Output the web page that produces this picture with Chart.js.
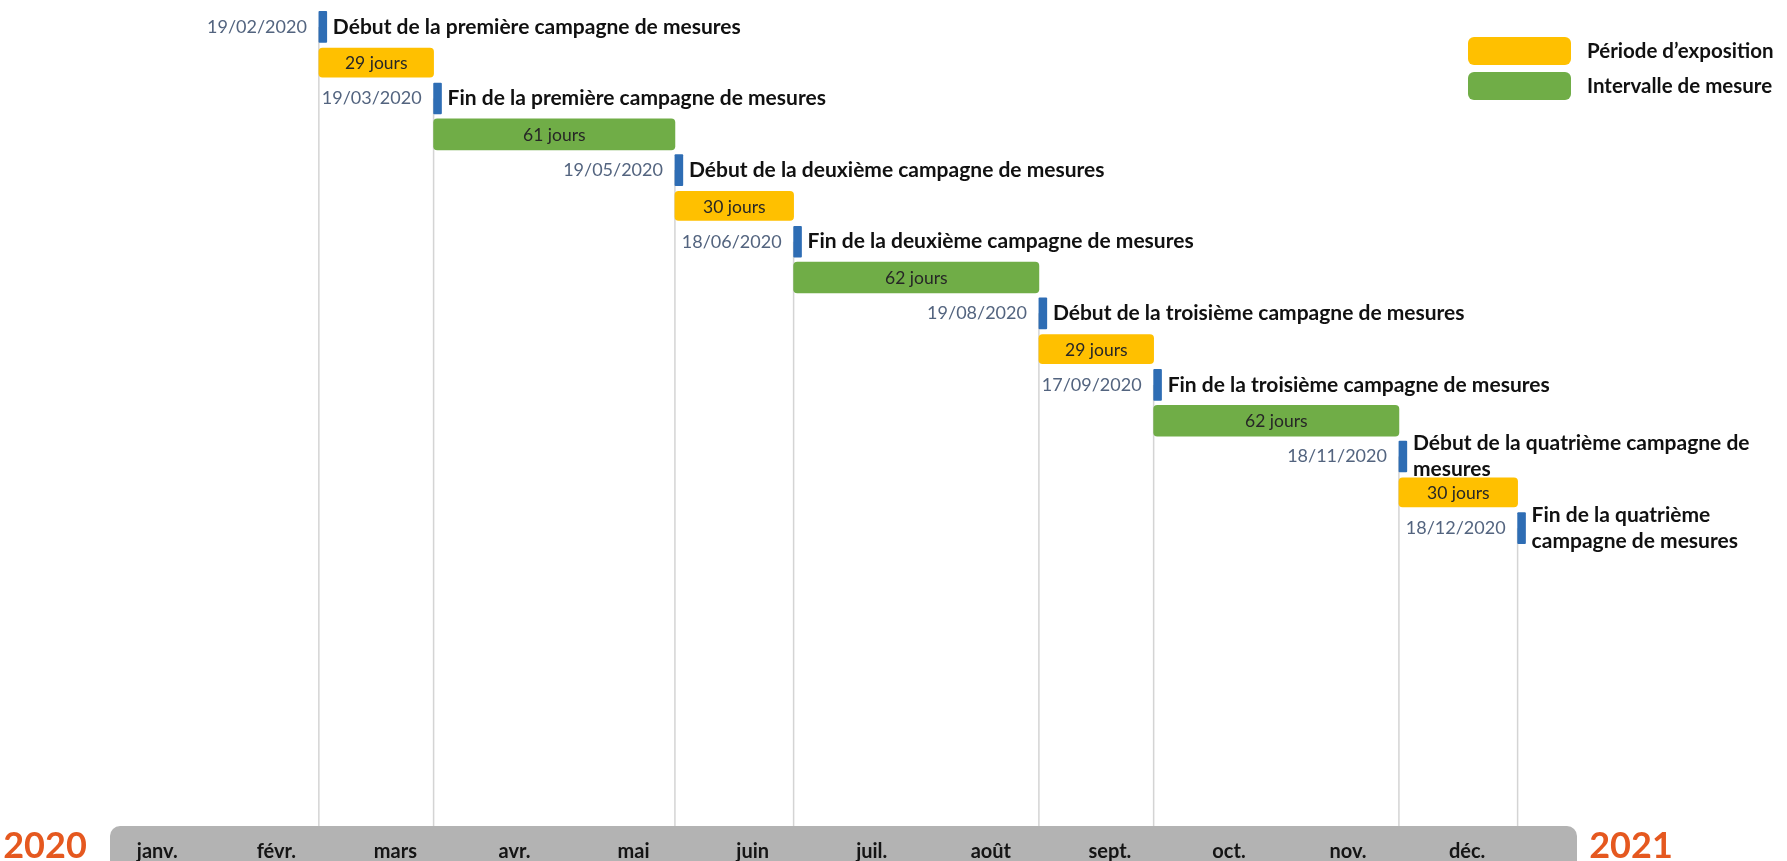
<!DOCTYPE html>
<html lang="fr">
<head>
<meta charset="utf-8">
<title>Campagnes de mesures 2020</title>
<script src="https://cdn.jsdelivr.net/npm/chart.js@4.4.1/dist/chart.umd.min.js"></script>
<style>
  html, body { margin: 0; padding: 0; background: #fff; }
</style>
</head>
<body>
<canvas id="timeline" width="1787" height="861"></canvas>
<script>
// jalons (jj/mm/aaaa) et leur ligne dans le planning
const milestoneDates = ['19/02/2020', '19/03/2020', '19/05/2020', '18/06/2020', '19/08/2020', '17/09/2020', '18/11/2020', '18/12/2020'];
const milestoneRows = [0, 2, 4, 6, 8, 10, 12, 14];
const milestoneLabels = [
  ['Début de la première campagne de mesures'],
  ['Fin de la première campagne de mesures'],
  ['Début de la deuxième campagne de mesures'],
  ['Fin de la deuxième campagne de mesures'],
  ['Début de la troisième campagne de mesures'],
  ['Fin de la troisième campagne de mesures'],
  ['Début de la quatrième campagne de', 'mesures'],
  ['Fin de la quatrième', 'campagne de mesures'],
];

// périodes d'exposition (jaune)
const exposureStart = ['19/02/2020', '19/05/2020', '19/08/2020', '18/11/2020'];
const exposureEnd = ['19/03/2020', '18/06/2020', '17/09/2020', '18/12/2020'];
const exposureRows = [1, 5, 9, 13];
const exposureDays = [29, 30, 29, 30];

// intervalles entre campagnes (vert)
const intervalStart = ['19/03/2020', '18/06/2020', '17/09/2020'];
const intervalEnd = ['19/05/2020', '19/08/2020', '18/11/2020'];
const intervalRows = [3, 7, 11];
const intervalDays = [61, 62, 62];

const monthLabels = ['janv.', 'févr.', 'mars', 'avr.', 'mai', 'juin', 'juil.', 'août', 'sept.', 'oct.', 'nov.', 'déc.'];
const yearLabels = ['2020', '2021'];

const FONT = 'Lato, "Open Sans", sans-serif';
const Y_MIN = -0.5;
const Y_MAX = 22.32;
const MARK_DAYS = 2; // largeur du repère bleu

function dayOfYear(s) {
  const [d, m, y] = s.split('/').map(Number);
  return (Date.UTC(y, m - 1, d) - Date.UTC(y, 0, 1)) / 86400000;
}

const exposureSet = {
  type: 'bar',
  label: 'Période d’exposition',
  indexAxis: 'y',
  xAxisID: 'x',
  yAxisID: 'y',
  data: exposureStart.map((s, i) => ({ x: [dayOfYear(s), dayOfYear(exposureEnd[i])], y: exposureRows[i] })),
  days: exposureDays,
  backgroundColor: '#FFC000',
  barThickness: 29,
  borderRadius: 4,
  borderSkipped: false,
  stack: 'g',
  order: 1,
};

const intervalSet = {
  type: 'bar',
  label: 'Intervalle de mesure',
  indexAxis: 'y',
  xAxisID: 'x',
  yAxisID: 'y',
  data: intervalStart.map((s, i) => ({ x: [dayOfYear(s), dayOfYear(intervalEnd[i])], y: intervalRows[i] })),
  days: intervalDays,
  backgroundColor: '#70AD47',
  barThickness: 31,
  borderRadius: 4,
  borderSkipped: false,
  stack: 'g',
  order: 1,
};

const markerSet = {
  type: 'bar',
  label: 'Jalons',
  indexAxis: 'y',
  xAxisID: 'x',
  yAxisID: 'y',
  data: milestoneDates.map((s, i) => ({ x: [dayOfYear(s), dayOfYear(s) + MARK_DAYS], y: milestoneRows[i] })),
  backgroundColor: '#2E6DB4',
  barThickness: 31,
  borderRadius: 1,
  borderSkipped: false,
  stack: 'g',
  order: 0,
};

// traits verticaux gris sous chaque jalon
const guideSets = milestoneDates.map((s, i) => ({
  type: 'line',
  label: 'guide ' + s,
  xAxisID: 'x',
  yAxisID: 'y',
  data: [{ x: dayOfYear(s), y: milestoneRows[i] }, { x: dayOfYear(s), y: Y_MAX }],
  borderColor: '#D4D4D4',
  borderWidth: 1.5,
  pointRadius: 0,
  fill: false,
  order: 5,
}));

const annotate = {
  id: 'annotate',
  beforeDraw(chart) {
    const { ctx, chartArea } = chart;
    const left = chartArea.left - 15;
    const right = chartArea.right + 4;
    ctx.save();
    ctx.fillStyle = '#B3B3B3';
    ctx.beginPath();
    ctx.roundRect(left, chartArea.bottom, right - left, chart.height - chartArea.bottom + 20, 10);
    ctx.fill();

    ctx.font = `bold 36px ${FONT}`;
    ctx.fillStyle = '#E5581F';
    ctx.textAlign = 'center';
    ctx.textBaseline = 'middle';
    const yy = chartArea.bottom + 20;
    ctx.fillText(yearLabels[0], left - 65, yy);
    ctx.fillText(yearLabels[1], right + 54, yy);
    ctx.restore();
  },
  afterDatasetsDraw(chart) {
    const { ctx, chartArea } = chart;
    const xs = chart.scales.x;
    const ys = chart.scales.y;
    ctx.save();
    ctx.textBaseline = 'middle';

    // étiquettes des barres
    ctx.font = `17.5px ${FONT}`;
    ctx.fillStyle = '#262626';
    ctx.textAlign = 'center';
    [exposureSet, intervalSet].forEach(ds => {
      ds.data.forEach((p, i) => {
        const cx = (xs.getPixelForValue(p.x[0]) + xs.getPixelForValue(p.x[1])) / 2;
        ctx.fillText(ds.days[i] + ' jours', cx, ys.getPixelForValue(p.y) + 1);
      });
    });

    // dates et libellés des jalons
    milestoneDates.forEach((s, i) => {
      const px = xs.getPixelForValue(dayOfYear(s));
      const py = ys.getPixelForValue(milestoneRows[i]);
      ctx.font = `18px ${FONT}`;
      ctx.fillStyle = '#53647F';
      ctx.textAlign = 'right';
      ctx.fillText(s, px - 12, py);
      const lines = milestoneLabels[i];
      ctx.font = `bold 21px ${FONT}`;
      ctx.fillStyle = '#111';
      ctx.textAlign = 'left';
      lines.forEach((t, k) => ctx.fillText(t, px + 14, py + (k - (lines.length - 1) / 2) * 26));
    });

    // légende
    [exposureSet, intervalSet].forEach((ds, k) => {
      const top = 37 + k * 35;
      ctx.fillStyle = ds.backgroundColor;
      ctx.beginPath();
      ctx.roundRect(chartArea.right - 105, top, 103, 28, 6);
      ctx.fill();
      ctx.font = `bold 20.5px ${FONT}`;
      ctx.fillStyle = '#111';
      ctx.textAlign = 'left';
      ctx.fillText(ds.label, chartArea.right + 14, top + 14);
    });
    ctx.restore();
  },
};

new Chart(document.getElementById('timeline'), {
  data: { datasets: [...guideSets, exposureSet, intervalSet, markerSet] },
  options: {
    responsive: false,
    animation: false,
    layout: { padding: { left: 125, right: 214, top: 9, bottom: 0 } },
    scales: {
      x: { type: 'linear', min: 0, max: 366, display: false, offset: false },
      y: { type: 'linear', min: Y_MIN, max: Y_MAX, reverse: true, display: false, offset: false },
      months: {
        type: 'linear',
        axis: 'x',
        position: 'bottom',
        min: -0.271,
        max: 11.889,
        offset: false,
        grid: { display: false },
        border: { display: false },
        afterBuildTicks: scale => { scale.ticks = monthLabels.map((_, i) => ({ value: i })); },
        afterFit: scale => { scale.height = 35; },
        ticks: {
          callback: v => monthLabels[v],
          font: { family: FONT, size: 20, weight: 'bold' },
          color: '#151515',
          padding: 6,
          maxRotation: 0,
          autoSkip: false,
        },
      },
    },
    plugins: {
      legend: { display: false },
      tooltip: { enabled: false },
    },
  },
  plugins: [annotate],
});
</script>
</body>
</html>
